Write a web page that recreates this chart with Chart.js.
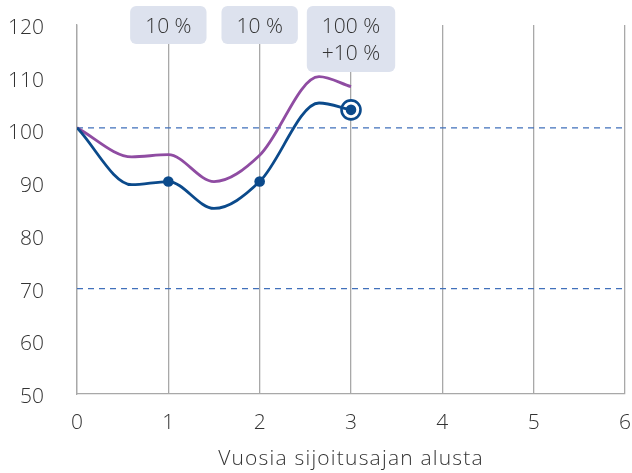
<!DOCTYPE html>
<html>
<head>
<meta charset="utf-8">
<script src="https://cdn.jsdelivr.net/npm/chart.js@4.4.1/dist/chart.umd.min.js"></script>
<style>
  body { margin: 0; background: #fff; }
  canvas { display: block; }
</style>
</head>
<body>
<canvas id="chart" width="632" height="473"></canvas>
<script>
// years from start, and index values of the two paths
const years = [0, 0.6, 1, 1.5, 2, 2.65, 3];
const bluePath = [100.5, 89.7, 90.3, 85.2, 90.3, 105.2, 103.9];
const purplePath = [100.5, 95.0, 95.4, 90.3, 95.3, 110.2, 108.3];
const markerYears = [1, 2, 3];
const endYear = 3;
const refLevels = [100.5, 70];
const xTicks = [0, 1, 2, 3, 4, 5, 6];
const yTicks = [50, 60, 70, 80, 90, 100, 110, 120];
const boxYears = [1, 2, 3];
const boxTexts = [['10 %'], ['10 %'], ['100 %', '+10 %']];
const xTitle = 'Vuosia sijoitusajan alusta';

const BLUE = '#0b4a8b';
const PURPLE = '#8f4ca2';
const DASH = '#4070bb';
const GRID = '#a8a8a8';
const TEXT = '#333333';
const FONT = '"Open Sans"';
const tickFont = { family: FONT, size: 21, weight: 300 };

const toPoints = vals => years.map((x, i) => ({ x, y: vals[i] }));

const refSets = refLevels.map(v => ({
  data: [{ x: xTicks[0], y: v }, { x: xTicks[xTicks.length - 1], y: v }],
  borderColor: DASH,
  borderWidth: 1.3,
  borderDash: [6, 5],
  pointRadius: 0,
  order: 5
}));

// wider spacing for the axis title only
function spaceTitle(s) {
  if (s._spaced) return;
  const orig = s.drawTitle;
  s.drawTitle = function () {
    this.ctx.letterSpacing = '1.2px';
    orig.call(this);
    this.ctx.letterSpacing = '0px';
  };
  s._spaced = true;
}

const infoBoxes = {
  id: 'infoBoxes',
  afterDraw(chart) {
    const ctx = chart.ctx;
    const xs = chart.scales.x;
    const top = chart.chartArea.top - 19;
    ctx.save();
    ctx.font = '300 21px ' + FONT;
    ctx.textAlign = 'center';
    ctx.textBaseline = 'middle';
    boxYears.forEach((yr, i) => {
      const lines = boxTexts[i];
      const w = Math.max(...lines.map(t => ctx.measureText(t).width)) + 30;
      const h = 38 + (lines.length - 1) * 28;
      const cx = xs.getPixelForValue(yr);
      ctx.fillStyle = '#dde2ee';
      ctx.beginPath();
      ctx.roundRect(cx - w / 2, top, w, h, 6);
      ctx.fill();
      ctx.fillStyle = TEXT;
      lines.forEach((t, j) => ctx.fillText(t, cx, top + 21 + j * 27));
    });
    ctx.restore();
  }
};

new Chart(document.getElementById('chart'), {
  type: 'line',
  data: {
    datasets: [
      {
        data: toPoints(bluePath),
        borderColor: BLUE,
        backgroundColor: BLUE,
        borderWidth: 2.8,
        cubicInterpolationMode: 'monotone',
        pointRadius: c => markerYears.includes(years[c.dataIndex]) ? 5.3 : 0,
        pointBorderWidth: 0,
        order: 1
      },
      {
        data: [{ x: endYear, y: bluePath[years.indexOf(endYear)] }],
        borderColor: BLUE,
        backgroundColor: '#ffffff',
        pointBorderColor: BLUE,
        pointBackgroundColor: '#ffffff',
        pointRadius: 9.5,
        pointBorderWidth: 2.6,
        showLine: false,
        order: 2
      },
      {
        data: toPoints(purplePath),
        borderColor: PURPLE,
        borderWidth: 2.8,
        cubicInterpolationMode: 'monotone',
        pointRadius: 0,
        order: 3
      },
      ...refSets
    ]
  },
  options: {
    responsive: false,
    animation: false,
    layout: { autoPadding: false, padding: { top: 25, right: 7, left: 0, bottom: 0 } },
    plugins: { legend: { display: false }, tooltip: { enabled: false } },
    scales: {
      x: {
        type: 'linear',
        min: xTicks[0],
        max: xTicks[xTicks.length - 1],
        afterBuildTicks: s => { s.ticks = xTicks.map(v => ({ value: v })); },
        afterFit: s => { s.height = 79; s.paddingLeft = 0; s.paddingRight = 0; spaceTitle(s); },
        grid: { color: GRID, lineWidth: 1.3, drawTicks: false },
        border: { color: GRID, width: 1.3 },
        ticks: { color: TEXT, font: tickFont, padding: 16 },
        title: {
          display: true,
          text: xTitle,
          color: TEXT,
          font: tickFont,
          padding: { top: 0, bottom: 1 }
        }
      },
      y: {
        min: yTicks[0],
        max: yTicks[yTicks.length - 1],
        afterBuildTicks: s => { s.ticks = yTicks.map(v => ({ value: v })); },
        afterFit: s => { s.width = 77; s.paddingTop = 0; s.paddingBottom = 0; },
        grid: { display: false, drawTicks: false },
        border: { color: GRID, width: 1.3 },
        ticks: { color: TEXT, font: tickFont, padding: 33, labelOffset: 3 }
      }
    }
  },
  plugins: [infoBoxes]
});
</script>
</body>
</html>
